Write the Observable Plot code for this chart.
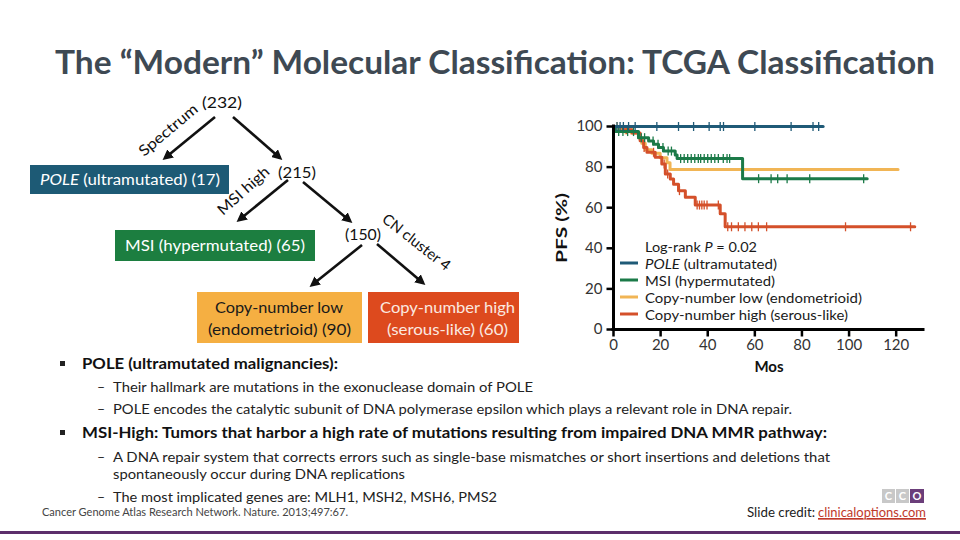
<!DOCTYPE html>
<html><head><meta charset="utf-8">
<script src="https://cdn.jsdelivr.net/npm/d3@7"></script>
<script src="https://cdn.jsdelivr.net/npm/@observablehq/plot@0.6"></script>
<style>
html,body{margin:0;padding:0;background:#fff;}
#page{position:relative;width:960px;height:540px;overflow:hidden;background:#fff;font-family:Lato,"Open Sans",sans-serif;}
#chart{position:absolute;left:540px;top:110px;}
#overlay{position:absolute;left:0;top:0;}
#overlay text{font-family:Lato,"Open Sans",sans-serif;}
</style></head><body>
<div id="page"><div id="chart"></div>
<svg id="overlay" width="960" height="540" xmlns="http://www.w3.org/2000/svg">
<defs><marker id="ah" viewBox="0 0 10 10" refX="7" refY="5" markerWidth="4" markerHeight="4" orient="auto"><path d="M0,0 L10,5 L0,10 z" fill="#111"/></marker></defs>
<text x="55" y="74" font-size="32" font-weight="700" fill="#3E4953" textLength="880" lengthAdjust="spacingAndGlyphs">The “Modern” Molecular Classification: TCGA Classification</text>
<!-- diagram -->
<g stroke="#111" stroke-width="2.6" marker-end="url(#ah)">
<line x1="215" y1="117" x2="165" y2="158"/>
<line x1="233" y1="117" x2="280" y2="158"/>
<line x1="288" y1="180" x2="239" y2="220"/>
<line x1="303" y1="182" x2="350" y2="221"/>
<line x1="362" y1="245" x2="312" y2="285"/>
<line x1="377" y1="244" x2="423" y2="283"/>
</g>
<text x="202" y="108" font-size="15" fill="#111" textLength="40" lengthAdjust="spacingAndGlyphs">(232)</text>
<text transform="translate(144,157) rotate(-40)" font-size="15" fill="#111" textLength="72" lengthAdjust="spacingAndGlyphs">Spectrum</text>
<text x="278" y="178" font-size="15" fill="#111" textLength="38" lengthAdjust="spacingAndGlyphs">(215)</text>
<text transform="translate(223,216) rotate(-42)" font-size="15" fill="#111" textLength="64" lengthAdjust="spacingAndGlyphs">MSI high</text>
<text x="345" y="240" font-size="15" fill="#111" textLength="36" lengthAdjust="spacingAndGlyphs">(150)</text>
<text transform="translate(381,221) rotate(38)" font-size="15" fill="#111" textLength="82" lengthAdjust="spacingAndGlyphs">CN cluster 4</text>
<rect x="30" y="165" width="199" height="29" fill="#1D5A75"/>
<text x="40" y="185" font-size="15" fill="#fff" textLength="180" lengthAdjust="spacingAndGlyphs"><tspan font-style="italic">POLE</tspan> (ultramutated) (17)</text>
<rect x="115" y="230" width="200" height="31" fill="#1C7E40"/>
<text x="125" y="251" font-size="15" fill="#fff" textLength="180" lengthAdjust="spacingAndGlyphs">MSI (hypermutated) (65)</text>
<rect x="197" y="292" width="165" height="51" fill="#F5AF42"/>
<text x="215" y="313" font-size="15" fill="#1a1a1a" textLength="128" lengthAdjust="spacingAndGlyphs">Copy-number low</text>
<text x="208" y="335" font-size="15" fill="#1a1a1a" textLength="143" lengthAdjust="spacingAndGlyphs">(endometrioid) (90)</text>
<rect x="368" y="292" width="151" height="51" fill="#DD4A1E"/>
<text x="380" y="313" font-size="15" fill="#FBE9E0" textLength="135" lengthAdjust="spacingAndGlyphs">Copy-number high</text>
<text x="387" y="335" font-size="15" fill="#FBE9E0" textLength="121" lengthAdjust="spacingAndGlyphs">(serous-like) (60)</text>
<!-- bullets -->
<rect x="60" y="361" width="5" height="5" fill="#222"/>
<text x="82" y="369" font-size="16" font-weight="700" fill="#111" textLength="256" lengthAdjust="spacingAndGlyphs">POLE (ultramutated malignancies):</text>
<text x="97" y="392" font-size="14" fill="#222">–</text>
<text x="113" y="392" font-size="14" fill="#222" textLength="420" lengthAdjust="spacingAndGlyphs">Their hallmark are mutations in the exonuclease domain of POLE</text>
<text x="97" y="414" font-size="14" fill="#222">–</text>
<text x="113" y="414" font-size="14" fill="#222" textLength="679" lengthAdjust="spacingAndGlyphs">POLE encodes the catalytic subunit of DNA polymerase epsilon which plays a relevant role in DNA repair.</text>
<rect x="60" y="430" width="5" height="5" fill="#222"/>
<text x="82" y="438" font-size="16" font-weight="700" fill="#111" textLength="745" lengthAdjust="spacingAndGlyphs">MSI-High: Tumors that harbor a high rate of mutations resulting from impaired DNA MMR pathway:</text>
<text x="97" y="462" font-size="14" fill="#222">–</text>
<text x="113" y="462" font-size="14" fill="#222" textLength="717" lengthAdjust="spacingAndGlyphs">A DNA repair system that corrects errors such as single-base mismatches or short insertions and deletions that</text>
<text x="113" y="479" font-size="14" fill="#222" textLength="292" lengthAdjust="spacingAndGlyphs">spontaneously occur during DNA replications</text>
<text x="97" y="502" font-size="14" fill="#222">–</text>
<text x="113" y="502" font-size="14" fill="#222" textLength="384" lengthAdjust="spacingAndGlyphs">The most implicated genes are: MLH1, MSH2, MSH6, PMS2</text>
<text x="42" y="516" font-size="11" fill="#444" textLength="306" lengthAdjust="spacingAndGlyphs">Cancer Genome Atlas Research Network. Nature. 2013;497:67.</text>
<text x="747" y="517" font-size="13" fill="#222" textLength="68" lengthAdjust="spacingAndGlyphs">Slide credit:</text>
<text x="818" y="517" font-size="13" fill="#C0392B" text-decoration="underline" textLength="108" lengthAdjust="spacingAndGlyphs">clinicaloptions.com</text>
<line x1="818" y1="519" x2="926" y2="519" stroke="#C0392B" stroke-width="1"/>
<rect x="882" y="489" width="13" height="14" fill="#C8C8C8"/>
<rect x="896" y="489" width="13" height="14" fill="#C8C8C8"/>
<rect x="910" y="489" width="14" height="14" fill="#6B3E7A"/>
<text x="888.5" y="500" font-size="11" font-weight="700" fill="#fff" text-anchor="middle">C</text>
<text x="902.5" y="500" font-size="11" font-weight="700" fill="#fff" text-anchor="middle">C</text>
<text x="917" y="500" font-size="11" font-weight="700" fill="#fff" text-anchor="middle">O</text>
<rect x="0" y="531" width="960" height="3" fill="#5C2F6B"/>
<!-- chart titles -->
<text transform="translate(567,228) rotate(-90)" font-size="15" font-weight="700" fill="#111" text-anchor="middle" textLength="70" lengthAdjust="spacingAndGlyphs">PFS (%)</text>
<text x="769" y="372" font-size="15" font-weight="700" fill="#111" text-anchor="middle">Mos</text>
<g id="legend"></g>
</svg>
</div>
<script>
const monthsTicks = [0, 20, 40, 60, 80, 100, 120];
const pfsTicks = [0, 20, 40, 60, 80, 100];
const groupNames = ["POLE (ultramutated)", "MSI (hypermutated)", "Copy-number low (endometrioid)", "Copy-number high (serous-like)"];
const groupColors = ["#1F5A77", "#1B7A48", "#F1B555", "#D4502A"];
const logRankP = "0.02";

// Kaplan-Meier steps: event times (months) and PFS (%) after each step
const poleStepT = [];
const poleStepS = [];
const poleEnd = 89;
const poleCensor = [1.5, 2.8, 4.2, 6.4, 9.2, 18.4, 27.6, 34, 40.6, 45.3, 46.7, 60, 75.4, 84.7, 87.1];

const msiStepT = [0.7, 10.6, 14.9, 17, 19.1, 21.2, 26.2, 27, 54.8];
const msiStepS = [97.5, 94.5, 92.9, 91.2, 89.6, 87.9, 86, 84.2, 74.3];
const msiEnd = 107.7;
const msiCensor = [2.2, 4, 6, 8.5, 11.8, 13.2, 16.8, 18.9, 21, 23.2, 24.6, 28.5, 30, 31.5, 33, 34.5, 36, 37, 38.5, 40, 41.5, 43, 44.5, 46.6, 48.2, 49.3, 61.6, 66.9, 69.7, 73.7, 83.3, 106.2];

const cnlStepT = [3, 7.5, 10.6, 12, 13.5, 16.3, 19.8, 22.7, 24];
const cnlStepS = [98.4, 96.8, 94.4, 91.8, 88.6, 86.8, 84.6, 82.2, 78.8];
const cnlEnd = 120.8;
const cnlCensor = [1.5, 5];

const cnhStepT = [4, 8, 11.3, 12.8, 14.2, 17.7, 20.5, 22, 24.1, 25.5, 27.6, 30.5, 34.7, 45.3, 47.4];
const cnhStepS = [98.4, 96.8, 93, 89.7, 87.3, 84.8, 81.5, 76.6, 74.1, 71.6, 68.4, 65.1, 61.3, 57, 50.6];
const cnhEnd = 127.9;
const cnhCensor = [5.5, 13, 17, 21.5, 23, 28, 35.5, 36.5, 37.5, 38.5, 39.7, 44.5, 48.5, 50.1, 53, 55.8, 58.7, 61.5, 65, 98.5, 126.1];

function stepPoints(T, S, end) {
  const pts = [{t: 0, s: 100}];
  T.forEach((t, i) => pts.push({t, s: S[i]}));
  pts.push({t: end, s: S.length ? S[S.length - 1] : 100});
  return pts;
}
function valueAt(T, S, t) {
  let s = 100;
  T.forEach((st, i) => { if (st <= t) s = S[i]; });
  return s;
}
const groups = [
  {T: poleStepT, S: poleStepS, end: poleEnd, c: poleCensor},
  {T: msiStepT, S: msiStepS, end: msiEnd, c: msiCensor},
  {T: cnlStepT, S: cnlStepS, end: cnlEnd, c: cnlCensor},
  {T: cnhStepT, S: cnhStepS, end: cnhEnd, c: cnhCensor}
];
const drawOrder = [2, 3, 1, 0];

const censorSym = {draw(ctx) { ctx.moveTo(0, -4.5); ctx.lineTo(0, 4.5); }};
const xTickSym = {draw(ctx) { ctx.moveTo(0, 0); ctx.lineTo(0, 7); }};
const yTickSym = {draw(ctx) { ctx.moveTo(0, 0); ctx.lineTo(-7, 0); }};

const marks = [];
for (const gi of drawOrder) {
  const g = groups[gi];
  marks.push(Plot.line(stepPoints(g.T, g.S, g.end), {x: "t", y: "s", curve: "step-after", stroke: groupColors[gi], strokeWidth: 3}));
  marks.push(Plot.dot(g.c.map(t => ({t, s: valueAt(g.T, g.S, t)})), {x: "t", y: "s", symbol: censorSym, fill: "none", stroke: groupColors[gi], strokeWidth: 1.3}));
}
marks.push(Plot.ruleY([0], {stroke: "#000", strokeWidth: 3, strokeLinecap: "square"}));
marks.push(Plot.ruleX([0], {stroke: "#000", strokeWidth: 3, strokeLinecap: "square"}));
marks.push(Plot.dot(monthsTicks, {x: d => d, y: () => 0, symbol: xTickSym, fill: "none", stroke: "#000", strokeWidth: 2.5}));
marks.push(Plot.dot(pfsTicks, {x: () => 0, y: d => d, symbol: yTickSym, fill: "none", stroke: "#000", strokeWidth: 2.5}));
marks.push(Plot.text(monthsTicks, {x: d => d, y: () => 0, dy: 16, text: d => String(d), fontSize: 15, fill: "#333"}));
marks.push(Plot.text(pfsTicks, {x: () => 0, y: d => d, dx: -11, textAnchor: "end", text: d => String(d), fontSize: 15, fill: "#333"}));

const chart = Plot.plot({
  width: 400, height: 270,
  marginLeft: 73, marginRight: 17, marginTop: 16, marginBottom: 51,
  x: {domain: [0, 131.6], axis: null},
  y: {domain: [0, 100], axis: null},
  style: {background: "transparent", fontFamily: "Lato, 'Open Sans', sans-serif", overflow: "visible"},
  marks
});
document.getElementById("chart").appendChild(chart);

// legend inside chart
const lg = d3.select("#legend");
lg.append("text").attr("x", 645).attr("y", 252).attr("font-size", 14).attr("fill", "#1a1a1a")
  .attr("textLength", 112).attr("lengthAdjust", "spacingAndGlyphs")
  .call(t => { t.append("tspan").text("Log-rank "); t.append("tspan").attr("font-style", "italic").text("P"); t.append("tspan").text(" = " + logRankP); });
const legendW = [132, 130, 217, 203];
groupNames.forEach((name, i) => {
  const cy = 263 + i * 17;
  lg.append("line").attr("x1", 620).attr("x2", 638).attr("y1", cy).attr("y2", cy).attr("stroke", groupColors[i]).attr("stroke-width", 3);
  const t = lg.append("text").attr("x", 645).attr("y", cy + 6).attr("font-size", 14).attr("fill", "#1a1a1a")
    .attr("textLength", legendW[i]).attr("lengthAdjust", "spacingAndGlyphs");
  if (i === 0) { t.append("tspan").attr("font-style", "italic").text("POLE"); t.append("tspan").text(name.slice(4)); }
  else t.text(name);
});
</script>
</body></html>
